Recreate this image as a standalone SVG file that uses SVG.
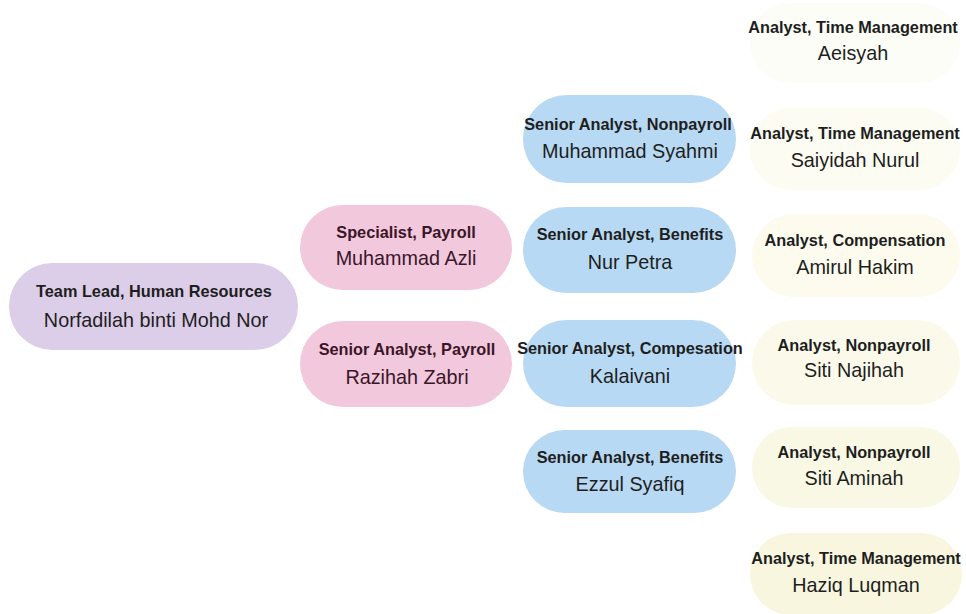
<svg xmlns="http://www.w3.org/2000/svg" width="966" height="614" viewBox="0 0 966 614">
<style>
.t{font-family:"Liberation Sans",Arial,sans-serif;font-weight:bold;font-size:16.3px;text-anchor:middle;fill:#1e1e1e}
.n{font-family:"Liberation Sans",Arial,sans-serif;font-size:19.8px;text-anchor:middle;fill:#1e1e1e}
.pk .t,.pk .n{fill:#3a1628}
.lead{fill:#dccde9}
.pink{fill:#f2c8dc}
.blue{fill:#b8d9f3}
</style>
<rect width="966" height="614" fill="#ffffff"/>
<g id="connectors"></g>
<g id="lead"><rect class="lead" x="9" y="263" width="289" height="87" rx="43.5"/><text class="t" x="154" y="297">Team Lead, Human Resources</text><text class="n" x="156" y="327">Norfadilah binti Mohd Nor</text></g>
<g id="azli" class="pk"><rect class="pink" x="300" y="205" width="212" height="85" rx="42.5"/><text class="t" x="406" y="238">Specialist, Payroll</text><text class="n" x="406" y="265">Muhammad Azli</text></g>
<g id="razihah" class="pk"><rect class="pink" x="300" y="321" width="212" height="86" rx="43"/><text class="t" x="407" y="355">Senior Analyst, Payroll</text><text class="n" x="407" y="384">Razihah Zabri</text></g>
<g id="syahmi"><rect class="blue" x="523" y="95" width="213" height="88" rx="44"/><text class="t" x="628" y="130">Senior Analyst, Nonpayroll</text><text class="n" x="630" y="158">Muhammad Syahmi</text></g>
<g id="petra"><rect class="blue" x="523" y="207" width="213" height="86" rx="43"/><text class="t" x="630" y="240">Senior Analyst, Benefits</text><text class="n" x="630" y="269">Nur Petra</text></g>
<g id="kalaivani"><rect class="blue" x="523" y="320" width="213" height="87" rx="43.5"/><text class="t" x="630" y="354">Senior Analyst, Compesation</text><text class="n" x="630" y="383">Kalaivani</text></g>
<g id="ezzul"><rect class="blue" x="523" y="430" width="213" height="83" rx="41.5"/><text class="t" x="630" y="463">Senior Analyst, Benefits</text><text class="n" x="630" y="491">Ezzul Syafiq</text></g>
<g id="aeisyah"><rect x="750" y="3" width="210" height="80" rx="40" fill="#fdfdf7"/><text class="t" x="853" y="33">Analyst, Time Management</text><text class="n" x="853" y="60">Aeisyah</text></g>
<g id="saiyidah"><rect x="750" y="108" width="210" height="82" rx="41" fill="#fcfcf2"/><text class="t" x="855" y="139">Analyst, Time Management</text><text class="n" x="855" y="167">Saiyidah Nurul</text></g>
<g id="amirul"><rect x="752" y="214" width="208" height="83" rx="41.5" fill="#fcfbee"/><text class="t" x="855" y="246">Analyst, Compensation</text><text class="n" x="855" y="274">Amirul Hakim</text></g>
<g id="najihah"><rect x="752" y="320" width="208" height="85" rx="42.5" fill="#fbfaea"/><text class="t" x="854" y="351">Analyst, Nonpayroll</text><text class="n" x="854" y="377">Siti Najihah</text></g>
<g id="aminah"><rect x="752" y="427" width="208" height="81" rx="40.5" fill="#f9f8e4"/><text class="t" x="854" y="458">Analyst, Nonpayroll</text><text class="n" x="854" y="485">Siti Aminah</text></g>
<g id="haziq"><rect x="750" y="533" width="212" height="82" rx="41" fill="#f8f6de"/><text class="t" x="856" y="564">Analyst, Time Management</text><text class="n" x="856" y="592">Haziq Luqman</text></g>
</svg>
